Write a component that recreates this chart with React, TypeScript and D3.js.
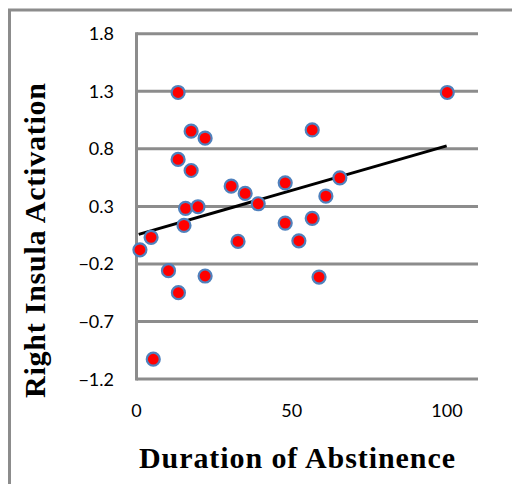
import React from "react";
import * as d3 from "d3";

const durations = [
  13.4, 100.1, 17.6, 22.1, 56.6, 13.4, 17.6, 30.5, 35.0, 39.2, 47.9, 65.5, 61.0, 15.8,
  19.8, 15.3, 47.9, 56.6, 32.7, 52.3, 4.7, 1.1, 10.3, 22.1, 13.5, 58.8, 5.4,
];
const activations = [
  1.29, 1.29, 0.954, 0.893, 0.965, 0.708, 0.612, 0.476, 0.413, 0.323, 0.505, 0.548, 0.389, 0.283,
  0.297, 0.135, 0.155, 0.196, -0.004, 0.001, 0.031, -0.077, -0.259, -0.305, -0.45, -0.314, -1.028,
];
const trendX = [0.7, 99.9];
const trendY = [0.057, 0.826];
const yTicks = [-1.2, -0.7, -0.2, 0.3, 0.8, 1.3, 1.8];
const xTicks = [0, 50, 100];

export default function App() {
  const width = 512;
  const height = 484;
  const left = 136.5;
  const right = 478;
  const top = 33.8;
  const bottom = 379;

  const x = d3.scaleLinear().domain([0, 110]).range([left, right]);
  const y = d3.scaleLinear().domain([-1.2, 1.8]).range([bottom, top]);

  const line = d3
    .line<number>()
    .x((d) => x(trendX[d]))
    .y((d) => y(trendY[d]));

  const grid = "#8c8c8c";
  const tickFont = "Lato, 'Open Sans', sans-serif";
  const titleFont = "'Liberation Serif', 'Times New Roman', serif";

  return (
    <svg
      width={width}
      height={height}
      style={{ position: "absolute", left: 0, top: 0, background: "#fff" }}
    >
      <path d={`M9.5,${height} V10 H${width}`} fill="none" stroke={grid} strokeWidth={3} />
      {yTicks.map((t) => (
        <g key={t}>
          <line x1={left} x2={right} y1={y(t)} y2={y(t)} stroke={grid} strokeWidth={3} />
          <text
            x={114}
            y={y(t) + 6.5}
            textAnchor="end"
            fontFamily={tickFont}
            fontSize={18}
            fill="#000"
          >
            {d3.format(".1f")(t)}
          </text>
        </g>
      ))}
      <line x1={left} x2={left} y1={top - 1.5} y2={bottom + 1.5} stroke={grid} strokeWidth={3} />
      {xTicks.map((t) => (
        <text
          key={t}
          x={x(t)}
          y={417}
          textAnchor="middle"
          fontFamily={tickFont}
          fontSize={18}
          fill="#000"
        >
          {t}
        </text>
      ))}
      <path d={line([0, 1]) || ""} fill="none" stroke="#000" strokeWidth={3} />
      {durations.map((d, i) => (
        <circle
          key={i}
          cx={x(d)}
          cy={y(activations[i])}
          r={6.5}
          fill="#ff0000"
          stroke="#4f81bd"
          strokeWidth={2.2}
        />
      ))}
      <text
        x={297}
        y={468}
        textAnchor="middle"
        fontFamily={titleFont}
        fontWeight="bold"
        fontSize={30}
        textLength={316}
        lengthAdjust="spacing"
        fill="#000"
      >
        Duration of Abstinence
      </text>
      <text
        transform={`translate(45, 240.5) rotate(-90)`}
        textAnchor="middle"
        fontFamily={titleFont}
        fontWeight="bold"
        fontSize={30}
        textLength={315}
        lengthAdjust="spacing"
        fill="#000"
      >
        Right Insula Activation
      </text>
    </svg>
  );
}
